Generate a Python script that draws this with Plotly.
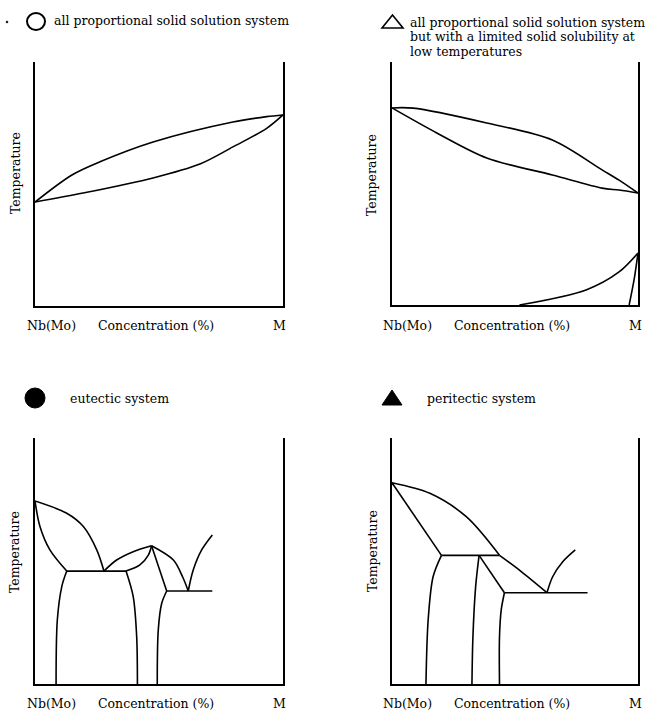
import plotly.graph_objects as go

# ---------------- data (concentration %, relative temperature %) ----------------
# Panel 1: all proportional solid solution system
p1_liquidus_x = [0, 14.9, 26.2, 47.6, 79.8, 93.4, 100]
p1_liquidus_y = [42.6, 53.7, 59.1, 67.2, 75.4, 77.6, 78.3]
p1_solidus_x = [0, 19.4, 47.6, 66.5, 79.8, 93.4, 100]
p1_solidus_y = [42.6, 46.3, 52.5, 58.2, 65.2, 72.8, 78.3]

# Panel 2: solid solution with limited solubility at low temperatures
p2_liquidus_x = [0, 8.6, 38.5, 65.2, 85.4, 92.3, 100]
p2_liquidus_y = [81.1, 81.0, 74.9, 67.9, 55.6, 51.4, 46.1]
p2_solidus_x = [0, 18.2, 38.5, 65.2, 85.4, 92.3, 100]
p2_solidus_y = [81.1, 70.8, 60.5, 53.5, 48.1, 47.3, 46.1]
p2_solvus_x = [51.8, 78.9, 92.3, 100]
p2_solvus_y = [0, 6.2, 13.6, 21.4]
p2_solvus2_x = [96.4, 98.5, 100]
p2_solvus2_y = [0, 11.0, 21.4]

# Panel 3: eutectic system
p3_liq_a_x = [0, 12.8, 19.5, 24.9, 27.8]
p3_liq_a_y = [74.4, 69.4, 64.0, 54.5, 45.9]
p3_sol_a_x = [0, 2.0, 6.0, 12.8]
p3_sol_a_y = [74.4, 64.0, 54.5, 45.9]
p3_eut1_x = [12.8, 36.7]
p3_eut1_y = [45.9, 45.9]
p3_solv_a_x = [12.8, 10.8, 9.0, 8.5]
p3_solv_a_y = [45.9, 39.6, 26.0, 0]
p3_liq_b_x = [27.8, 32.9, 39.6, 47.0]
p3_liq_b_y = [45.9, 50.4, 53.8, 56.2]
p3_sol_b_x = [36.7, 42.3, 45.7, 47.0]
p3_sol_b_y = [45.9, 48.4, 52.4, 56.2]
p3_solv_b_x = [36.7, 39.6, 41.0, 41.3]
p3_solv_b_y = [45.9, 35.5, 19.2, 0]
p3_sol_c_x = [47.0, 53.1]
p3_sol_c_y = [56.2, 37.8]
p3_liq_c_x = [47.0, 55.8, 59.5, 61.8]
p3_liq_c_y = [56.2, 50.4, 43.6, 37.8]
p3_eut2_x = [53.1, 71.5]
p3_eut2_y = [37.8, 37.8]
p3_solv_c_x = [53.1, 51.1, 49.7, 49.3]
p3_solv_c_y = [37.8, 32.8, 21.9, 0]
p3_liq_d_x = [61.8, 63.8, 67.2, 71.5]
p3_liq_d_y = [37.8, 46.3, 54.5, 60.6]

# Panel 4: peritectic system
p4_liq_a_x = [0, 15.4, 30.2, 43.7]
p4_liq_a_y = [81.8, 77.5, 68.0, 52.3]
p4_liq_a2_x = [43.7, 51.8, 63.0]
p4_liq_a2_y = [52.3, 46.3, 37.1]
p4_sol_a_x = [0, 20.1]
p4_sol_a_y = [81.8, 52.3]
p4_peri_x = [20.1, 43.7]
p4_peri_y = [52.3, 52.3]
p4_solv_a_x = [20.1, 16.7, 14.7, 13.8]
p4_solv_a_y = [52.3, 43.6, 26.0, 0]
p4_solv_b_x = [35.4, 34.0, 32.9, 32.5]
p4_solv_b_y = [52.3, 39.6, 19.2, 0]
p4_line_b_x = [35.4, 45.7]
p4_line_b_y = [52.3, 37.1]
p4_eut_x = [45.7, 79.5]
p4_eut_y = [37.1, 37.1]
p4_solv_c_x = [45.7, 44.4, 43.7, 43.7]
p4_solv_c_y = [37.1, 30.1, 19.2, 0]
p4_liq_b_x = [63.0, 65.3, 69.4, 74.5]
p4_liq_b_y = [37.1, 43.6, 49.7, 54.5]

# text
panel_titles = [
    ["all proportional solid solution system"],
    ["all proportional solid solution system",
     "but with a limited solid solubility at",
     "low temperatures"],
    ["eutectic system"],
    ["peritectic system"],
]
x_labels = ["Nb(Mo)", "Concentration (%)", "M"]
y_label = "Temperature"

# ---------------- figure ----------------
W, H = 648, 711
FONT = "DejaVu Serif"


def px(x):
    return x / W


def py(y):
    return 1 - y / H


# panel pixel boxes: (left, right, top, bottom)
boxes = [(35, 283, 62, 306), (392, 638, 62, 305), (35, 283, 438, 684), (392, 638, 438, 684)]

curves = [
    [(p1_liquidus_x, p1_liquidus_y, True), (p1_solidus_x, p1_solidus_y, True)],
    [(p2_liquidus_x, p2_liquidus_y, True), (p2_solidus_x, p2_solidus_y, True),
     (p2_solvus_x, p2_solvus_y, True), (p2_solvus2_x, p2_solvus2_y, True)],
    [(p3_liq_a_x, p3_liq_a_y, True), (p3_sol_a_x, p3_sol_a_y, True), (p3_eut1_x, p3_eut1_y, False),
     (p3_solv_a_x, p3_solv_a_y, True), (p3_liq_b_x, p3_liq_b_y, True), (p3_sol_b_x, p3_sol_b_y, True),
     (p3_solv_b_x, p3_solv_b_y, True), (p3_sol_c_x, p3_sol_c_y, False), (p3_liq_c_x, p3_liq_c_y, True),
     (p3_eut2_x, p3_eut2_y, False), (p3_solv_c_x, p3_solv_c_y, True), (p3_liq_d_x, p3_liq_d_y, True)],
    [(p4_liq_a_x, p4_liq_a_y, True), (p4_liq_a2_x, p4_liq_a2_y, True), (p4_sol_a_x, p4_sol_a_y, False),
     (p4_peri_x, p4_peri_y, False), (p4_solv_a_x, p4_solv_a_y, True), (p4_solv_b_x, p4_solv_b_y, True),
     (p4_line_b_x, p4_line_b_y, False), (p4_eut_x, p4_eut_y, False), (p4_solv_c_x, p4_solv_c_y, True),
     (p4_liq_b_x, p4_liq_b_y, True)],
]

fig = go.Figure()
layout = dict(
    width=W, height=H, margin=dict(l=0, r=0, t=0, b=0),
    paper_bgcolor="white", plot_bgcolor="white", showlegend=False,
)

annotations = []
for i, (l, r, t, b) in enumerate(boxes):
    n = "" if i == 0 else str(i + 1)
    xa, ya = "x" + n, "y" + n
    layout["xaxis" + n] = dict(domain=[px(l), px(r)], range=[0, 100], showgrid=False, zeroline=False,
                               showticklabels=False, ticks="", showline=True, linecolor="black",
                               linewidth=2, anchor=ya, fixedrange=True)
    layout["yaxis" + n] = dict(domain=[py(b), py(t)], range=[0, 100], showgrid=False, zeroline=False,
                               showticklabels=False, ticks="", showline=True, mirror=True,
                               linecolor="black", linewidth=2, anchor=xa, fixedrange=True)
    for cx, cy, smooth in curves[i]:
        fig.add_trace(go.Scatter(
            x=cx, y=cy, mode="lines", xaxis=xa, yaxis=ya, hoverinfo="skip",
            line=dict(color="black", width=1.6, shape="spline" if smooth else "linear",
                      smoothing=0.9 if smooth else None),
        ))
    # x labels
    label_y = (325 if i < 2 else 703)
    label_x = [6.5, 48.8, 98.5] if i % 2 == 0 else [6.1, 48.8, 99.0]
    for lx, txt in zip(label_x, x_labels):
        annotations.append(dict(x=lx, y=py(label_y), xref=xa, yref="paper", text=txt, showarrow=False,
                                xanchor="center", yanchor="middle",
                                font=dict(family=FONT, size=12.5, color="black")))
    # y label
    ty = [173, 175, 552, 551][i]
    tx = [15, 372, 14, 372][i]
    annotations.append(dict(x=px(tx), y=py(ty), xref="paper", yref="paper", text=y_label, textangle=-90,
                            showarrow=False, xanchor="center", yanchor="middle",
                            font=dict(family=FONT, size=12.5, color="black")))

# panel titles
title_pos = [(52, [21]), (408, [22, 37, 52]), (68, [398]), (425, [398])]
for (tx, ys), lines in zip(title_pos, panel_titles):
    for yy, txt in zip(ys, lines):
        annotations.append(dict(x=px(tx), y=py(yy), xref="paper", yref="paper", text=txt, showarrow=False,
                                xanchor="left", yanchor="middle",
                                font=dict(family=FONT, size=12.5, color="black")))

shapes = [
    # hollow circle (panel 1)
    dict(type="circle", xref="paper", yref="paper", x0=px(27), x1=px(45), y0=py(30), y1=py(13),
         line=dict(color="black", width=2)),
    # small speck (panel 1)
    dict(type="circle", xref="paper", yref="paper", x0=px(6), x1=px(8), y0=py(23), y1=py(21),
         line=dict(color="black", width=0.5), fillcolor="black"),
    # hollow triangle (panel 2)
    dict(type="path", xref="paper", yref="paper",
         path=f"M {px(382)} {py(28)} L {px(403)} {py(28)} L {px(392.5)} {py(15)} Z",
         line=dict(color="black", width=1.6)),
    # filled circle (panel 3)
    dict(type="circle", xref="paper", yref="paper", x0=px(25), x1=px(45), y0=py(408), y1=py(388),
         line=dict(color="black", width=1), fillcolor="black"),
    # filled triangle (panel 4)
    dict(type="path", xref="paper", yref="paper",
         path=f"M {px(382)} {py(405)} L {px(402)} {py(405)} L {px(392)} {py(390)} Z",
         line=dict(color="black", width=1), fillcolor="black"),
]

layout["annotations"] = annotations
layout["shapes"] = shapes
fig.update_layout(**layout)
fig.write_html("out.html")
